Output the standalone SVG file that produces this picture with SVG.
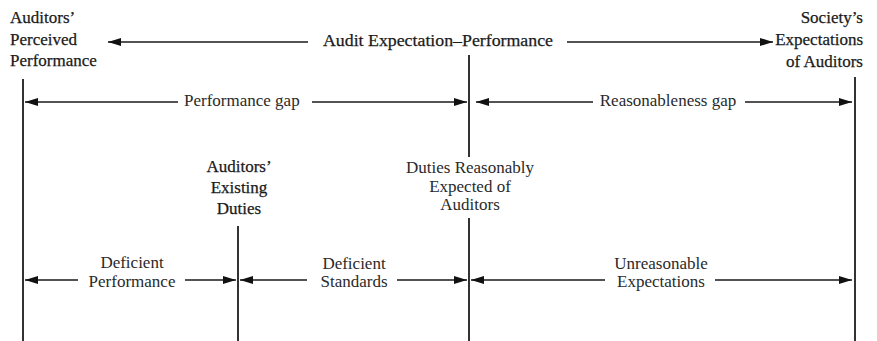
<svg xmlns="http://www.w3.org/2000/svg" width="877" height="341" viewBox="0 0 877 341">
<style>
text{font-family:'Liberation Serif','DejaVu Serif',serif;font-size:17px;fill:#1a1a1a}
.h{stroke:#1a1a1a;stroke-width:0.25}
.l{fill:#2a2a2a}
.m{text-anchor:middle}
.e{text-anchor:end}
.v{stroke:#333;stroke-width:2;fill:none}
.a{stroke:#1a1a1a;stroke-width:1.6;fill:none;marker-end:url(#ah)}
</style>
<defs>
<marker id="ah" markerUnits="userSpaceOnUse" markerWidth="13" markerHeight="8" refX="13" refY="4" orient="auto">
<path d="M0,0 L13,4 L0,8 Z" fill="#111"/>
</marker>
</defs>
<rect width="877" height="341" fill="#fff"/>
<g font-family="Liberation Serif, DejaVu Serif, serif">
<g id="perceived">
<text class="h" x="10" y="23">Auditors’</text>
<text class="h" x="10" y="45">Perceived</text>
<text class="h" x="10" y="66">Performance</text>
<line class="v" x1="23" y1="79" x2="23" y2="341"/>
</g>
<g id="society">
<text class="h e" x="863" y="23">Society’s</text>
<text class="h e" x="863" y="45">Expectations</text>
<text class="h e" x="863" y="67">of Auditors</text>
<line class="v" x1="855" y1="77" x2="855" y2="341"/>
</g>
<g id="gap-title">
<text class="h m" x="438" y="46" textLength="230" lengthAdjust="spacingAndGlyphs">Audit Expectation–Performance</text>
<line class="v" x1="469" y1="55" x2="469" y2="157"/>
</g>
<g id="existing">
<text class="h m" x="239" y="172">Auditors’</text>
<text class="h m" x="239" y="193">Existing</text>
<text class="h m" x="239" y="214">Duties</text>
<line class="v" x1="238" y1="226" x2="238" y2="341"/>
</g>
<g id="reasonable">
<text class="l m" x="470" y="173">Duties Reasonably</text>
<text class="l m" x="470" y="192">Expected of</text>
<text class="l m" x="470" y="210">Auditors</text>
<line class="v" x1="469" y1="218" x2="469" y2="341"/>
</g>
<g id="connectors">
<line class="a" x1="308" y1="42" x2="108" y2="42"/>
<line class="a" x1="567" y1="42" x2="773" y2="42"/>
<text class="l" x="184" y="106">Performance gap</text>
<line class="a" x1="178" y1="102" x2="25" y2="102"/>
<line class="a" x1="312" y1="102" x2="467" y2="102"/>
<text class="l m" x="668" y="106">Reasonableness gap</text>
<line class="a" x1="593" y1="102" x2="476" y2="102"/>
<line class="a" x1="745" y1="102" x2="852" y2="102"/>
<text class="l m" x="132" y="268">Deficient</text>
<text class="l m" x="132" y="287">Performance</text>
<line class="a" x1="78" y1="280" x2="25" y2="280"/>
<line class="a" x1="185" y1="280" x2="236" y2="280"/>
<text class="l m" x="354" y="269">Deficient</text>
<text class="l m" x="354" y="287">Standards</text>
<line class="a" x1="307" y1="280" x2="240" y2="280"/>
<line class="a" x1="397" y1="280" x2="467" y2="280"/>
<text class="l m" x="661" y="269">Unreasonable</text>
<text class="l m" x="661" y="287">Expectations</text>
<line class="a" x1="605" y1="280" x2="471" y2="280"/>
<line class="a" x1="715" y1="280" x2="852" y2="280"/>
</g>
</g>
</svg>
